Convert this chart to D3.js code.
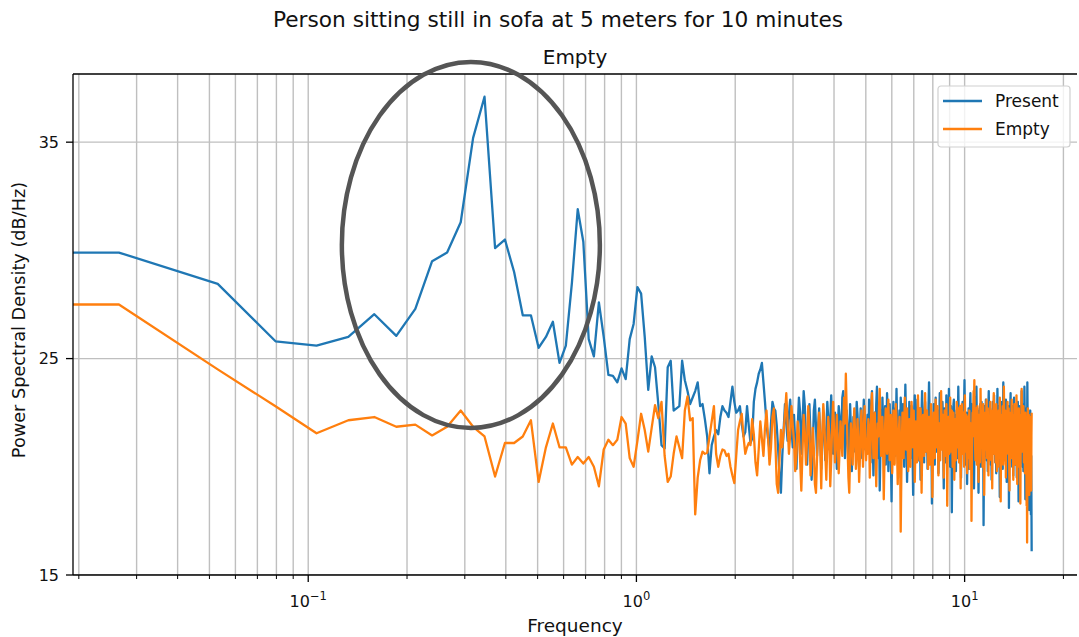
<!DOCTYPE html>
<html>
<head>
<meta charset="utf-8">
<script src="https://cdn.jsdelivr.net/npm/d3@7"></script>
<style>
  body { margin: 0; background: #fff; }
  svg { display: block; font-family: "DejaVu Sans", sans-serif; }
</style>
</head>
<body>
<svg id="chart"></svg>
<script>
// PSD bin width (Hz)
const df = 0.0265;

// bins 1..189 (dB/Hz)
const presentLow = [
  29.9, 28.45, 25.8, 25.6, 26.0, 27.05, 26.05, 27.3, 29.5, 29.9,
  31.3, 35.2, 37.1, 30.1, 30.5, 29.0, 27.0, 27.0, 25.5, 26.0,
  26.7, 24.8, 25.6, 28.5, 31.9, 30.4, 25.9, 25.1, 27.6, 26.0,
  24.25, 24.2, 23.9, 24.55, 24.05, 25.9, 26.6, 28.3, 28.0, 26.0,
  23.55, 25.1, 24.6, 22.9, 21.0, 20.85, 24.6, 24.9, 22.6, 22.7,
  22.8, 24.9, 24.0, 23.5, 22.9, 23.2, 23.5, 23.9, 22.8, 22.9,
  22.2, 21.4, 19.7, 21.0, 21.4, 21.7, 21.5, 22.3, 22.8, 22.6,
  22.5, 22.3, 23.0, 23.7, 23.0, 22.5, 22.6, 22.8, 22.0, 21.4,
  21.6, 22.8, 21.9, 21.1, 21.3, 23.0, 23.6, 23.9, 24.3, 24.5,
  24.8, 23.9, 23.0, 22.0, 21.3, 20.8, 22.0, 23.0, 22.7, 22.6,
  21.9, 20.8, 19.6, 18.8, 20.5, 21.7, 22.9, 22.0, 21.2, 22.4,
  23.1, 21.8, 20.9,
  22.4, 21.1, 19.9, 21.8, 23.2, 22.5, 20.6, 21.9, 23.5, 22.8,
  21.2, 20.1, 21.7, 22.9, 21.4, 19.4, 20.8, 22.6, 23.1, 21.9,
  20.5, 21.8, 22.7, 21.3, 19.9, 21.2, 22.4, 21.6, 20.3, 21.5,
  23.0, 22.2, 20.8, 22.1, 23.3, 22.0, 20.6, 21.4, 22.5, 21.0,
  19.9, 21.7, 22.8, 22.3, 20.9, 21.6, 23.2, 23.5, 22.1, 20.4,
  21.3, 22.6, 21.8, 20.2, 21.1, 22.9, 21.7, 19.8, 20.9, 22.3,
  21.5, 20.7, 22.0, 23.0, 22.4, 21.2, 20.0, 21.5, 22.7, 21.6,
  20.4, 21.9, 23.1, 22.2, 20.8, 21.5
];
const emptyLow = [
  27.5, 24.5, 22.8, 21.55, 22.15, 22.3, 21.85, 21.95, 21.45, 21.85,
  22.6, 21.85, 21.4, 19.55, 21.1, 21.1, 21.4, 22.15, 19.3, 20.9,
  22.0, 20.9, 20.9, 20.1, 20.45, 20.15, 20.45, 20.0, 19.1, 20.8,
  21.25, 21.0, 21.25, 22.3, 22.0, 20.4, 20.0, 21.2, 22.45, 21.7,
  20.7, 21.8, 22.85, 22.25, 23.0, 20.5, 19.3, 19.55, 20.6, 21.4,
  20.9, 20.4, 22.6, 23.25, 22.15, 22.25, 17.8, 19.5, 20.3, 20.7,
  20.6, 20.65, 21.4, 22.1, 22.8, 20.6, 20.0, 20.5, 20.8, 20.75,
  20.5, 20.6, 20.0, 19.6, 19.25, 20.5, 21.7, 22.1, 22.45, 21.4,
  20.6, 20.9, 21.1, 21.0, 22.2, 21.5, 20.2, 19.6, 20.8, 22.1,
  21.3, 20.5, 21.8, 22.6, 21.4, 20.1, 20.9, 22.3, 22.7, 21.2,
  19.2, 18.8, 20.4, 21.7, 20.9, 21.6, 22.4, 23.4, 22.0, 20.6,
  21.5, 22.8, 21.9,
  21.2, 19.8, 20.6, 22.1, 21.5, 20.3, 18.9, 20.7, 22.4, 21.6,
  20.1, 21.3, 22.8, 21.9, 19.6, 20.5, 21.8, 20.9, 19.2, 18.8,
  20.4, 21.7, 22.5, 21.3, 19.0, 21.4, 22.9, 22.2, 20.6, 19.4,
  21.0, 22.3, 21.5, 19.1, 20.3, 21.9, 23.0, 21.7, 20.2, 21.1,
  22.4, 21.0, 19.7, 20.8, 22.1, 21.4, 20.5, 21.8, 23.2, 22.0,
  24.3, 22.6, 20.9, 19.5, 18.8, 20.6, 22.0, 21.3, 20.1, 21.6,
  22.7, 21.5, 19.9, 20.7, 22.2, 21.1, 19.3, 20.4, 21.9, 22.6,
  21.2, 20.0, 21.5, 22.8, 21.7, 20.3
];

// bins 190..604 (~5 Hz up to 16 Hz)
const presentHigh = [
  21.6, 22.4, 20.9, 23.1, 21.8, 20.2, 22.7, 23.5, 21.3, 19.6,
  20.8, 22.5, 21.1, 22.9, 23.7, 21.9, 20.4, 22.2, 18.9, 20.7,
  22.6, 21.4, 23.2, 22.0, 20.6, 21.7, 22.8, 20.1, 21.5, 23.4,
  22.3, 19.8, 21.2, 22.9, 21.6, 20.3, 18.4, 20.9, 22.4, 23.0,
  21.8, 22.7, 20.5, 21.9, 23.6, 22.1, 20.8, 19.5, 21.4, 22.6,
  21.0, 23.2, 22.5, 20.7, 21.8, 22.9, 21.3, 20.0, 22.1, 23.8,
  22.4, 21.1, 19.3, 20.6, 22.3, 21.5, 23.0, 22.2, 20.4, 21.7,
  22.8, 21.2, 20.5, 18.7, 20.9, 22.6, 23.3, 21.7, 22.4, 20.8,
  21.9, 23.1, 22.0, 20.3, 21.6, 22.7, 21.1, 19.4, 21.3, 22.5,
  23.5, 22.3, 20.9, 21.8, 20.2, 22.4, 23.0, 21.6, 20.7, 22.1,
  21.4, 19.9, 21.7, 22.8, 23.9, 22.6, 21.0, 20.4, 22.2, 21.5,
  18.3, 20.6, 22.0, 21.3, 22.9, 21.8, 20.1, 21.6, 23.2, 22.4,
  20.7, 21.9, 22.6, 21.2, 19.7, 20.8, 22.3, 23.4, 22.0, 21.1,
  22.5, 20.9, 21.7, 23.0, 22.2, 20.5, 19.0, 21.2, 22.7, 21.4,
  20.2, 21.8, 23.3, 22.5, 21.0, 22.1, 20.6, 21.9, 23.6, 22.3,
  21.5, 20.0, 21.4, 22.8, 21.7, 17.9, 20.3, 22.0, 21.6, 22.9,
  23.1, 21.8, 20.7, 22.4, 21.2, 19.8, 21.5, 22.6, 21.0, 20.4,
  22.2, 23.7, 22.5, 21.1, 20.2, 21.9, 22.8, 21.3, 19.5, 21.0,
  22.4, 21.6, 23.0, 22.1, 20.8, 21.7, 22.9, 24.0, 22.6, 21.2,
  20.1, 21.8, 22.5, 20.9, 19.2, 20.6, 22.3, 21.4, 22.7, 21.1,
  19.9, 21.3, 22.8, 23.4, 22.0, 20.7, 21.5, 22.9, 21.6, 20.3,
  21.7, 22.4, 20.8, 19.0, 20.5, 22.1, 23.2, 21.9, 20.6, 22.0,
  23.7, 22.3, 21.0, 21.8, 22.6, 20.4, 18.8, 20.2, 21.9, 22.7,
  21.5, 22.9, 21.2, 20.0, 21.6, 23.0, 22.4, 21.1, 20.7, 22.3,
  21.4, 17.3, 19.6, 21.5, 22.8, 21.7, 20.5, 22.0, 23.1, 21.8,
  20.3, 21.6, 22.5, 21.0, 19.8, 21.3, 22.9, 23.5, 22.2, 20.9,
  21.8, 22.7, 21.4, 20.1, 22.0, 21.2, 19.4, 20.8, 22.4, 21.6,
  23.0, 22.1, 20.6, 21.9, 23.3, 22.0, 20.9, 21.5, 20.2, 22.6,
  21.3, 19.7, 21.1, 22.5, 21.8, 23.6, 22.7, 21.0, 20.3, 21.7,
  22.8, 21.5, 20.1, 18.6, 20.4, 22.2, 21.6, 23.0, 22.3, 20.8,
  21.9, 22.7, 21.2, 19.9, 21.4, 23.9, 22.6, 21.3, 20.5, 22.0,
  21.1, 22.4, 20.7, 21.8, 23.1, 22.2, 20.6, 19.3, 20.9, 22.5,
  21.7, 20.4, 21.9, 22.8, 21.5, 18.1, 20.2, 21.8, 22.6, 21.0,
  22.9, 23.4, 21.8, 20.7, 21.6, 22.3, 21.1, 20.0, 21.7, 22.8,
  21.4, 19.6, 21.0, 22.4, 23.2, 22.0, 20.8, 21.9, 22.6, 21.3,
  20.1, 21.5, 22.7, 21.8, 19.5, 20.9, 22.1, 21.4, 23.0, 22.3,
  20.6, 18.4, 20.3, 21.7, 22.8, 21.6, 20.5, 22.2, 21.3, 22.5,
  21.0, 20.2, 21.8, 23.5, 22.4, 21.1, 20.0, 21.6, 22.9, 21.7,
  19.8, 21.2, 22.6, 21.5, 23.7, 22.8, 21.4, 20.3, 18.5, 20.6,
  22.1, 21.0, 22.7, 21.9, 20.4, 21.6, 23.9, 22.5, 20.8, 19.6,
  21.3, 22.4, 20.7, 18.0, 19.9, 22.2, 21.5, 20.3, 22.6, 21.1,
  19.4, 17.8, 20.5, 18.6, 16.1
];
const emptyHigh = [
  21.3, 20.6, 22.2, 21.7, 19.5, 20.8, 22.6, 23.4, 21.9, 20.4,
  21.1, 22.5, 20.7, 19.1, 20.9, 22.0, 21.4, 22.8, 23.6, 21.8,
  20.5, 21.6, 22.3, 20.8, 18.5, 20.2, 21.9, 22.7, 21.2, 20.6,
  22.1, 23.1, 21.7, 20.3, 21.5, 22.4, 20.9, 19.7, 21.0, 22.6,
  21.4, 20.1, 21.8, 22.9, 22.2, 20.7, 19.2, 20.5, 21.7, 22.3,
  20.6, 17.0, 19.4, 21.2, 22.5, 21.6, 20.4, 21.9, 23.2, 22.0,
  20.8, 21.5, 22.7, 21.1, 19.8, 20.9, 22.2, 21.3, 20.0, 21.7,
  23.0, 22.4, 20.9, 21.8, 22.6, 21.2, 19.3, 20.6, 22.1, 21.5,
  20.2, 21.4, 23.3, 22.5, 21.0, 20.3, 21.8, 22.7, 21.6, 18.8,
  20.4, 21.9, 22.4, 21.1, 20.5, 22.0, 23.4, 22.2, 20.7, 21.3,
  22.6, 21.5, 19.9, 20.8, 22.3, 21.7, 20.1, 21.4, 22.9, 22.1,
  20.6, 18.6, 20.2, 21.6, 22.5, 21.3, 20.4, 21.9, 23.1, 22.0,
  20.9, 21.7, 22.8, 21.4, 19.6, 20.7, 22.0, 21.2, 20.3, 21.8,
  23.5, 22.3, 20.8, 21.6, 22.4, 20.9, 19.5, 21.0, 22.6, 21.7,
  20.5, 21.9, 22.9, 21.3, 18.2, 20.1, 21.6, 22.3, 21.1, 20.6,
  22.0, 23.2, 22.1, 20.7, 21.5, 22.6, 21.4, 20.0, 21.8, 22.5,
  21.2, 19.4, 20.8, 22.2, 21.5, 20.3, 21.7, 23.0, 22.4, 20.9,
  21.6, 22.7, 21.3, 20.2, 21.9, 22.8, 21.0, 19.0, 20.5, 22.1,
  22.9, 21.8, 20.6, 21.4, 22.5, 21.1, 20.0, 21.7, 23.3, 22.2,
  20.7, 21.5, 22.4, 21.0, 19.7, 20.9, 22.3, 21.6, 20.4, 21.8,
  22.6, 21.2, 19.9, 20.6, 22.0, 21.3, 17.5, 19.8, 21.7, 22.5,
  21.4, 22.8, 23.5, 22.9, 24.0, 22.4, 21.1, 20.3, 21.9, 22.7,
  21.5, 20.1, 21.6, 22.8, 21.8, 20.5, 19.3, 21.0, 22.4, 21.3,
  20.2, 21.7, 23.6, 22.3, 21.0, 21.9, 22.6, 21.2, 20.0, 21.5,
  22.9, 22.1, 20.6, 18.7, 20.3, 21.8, 22.5, 21.4, 20.8, 22.2,
  23.1, 21.7, 20.4, 21.5, 22.7, 21.1, 19.6, 20.9, 22.3, 21.6,
  20.3, 21.8, 23.0, 22.4, 20.9, 21.3, 22.6, 21.0, 19.0, 20.7,
  22.0, 21.4, 22.8, 23.4, 21.9, 20.6, 21.5, 22.2, 21.1, 20.2,
  21.7, 22.9, 21.6, 19.8, 20.5, 22.1, 21.3, 20.0, 21.9, 22.6,
  21.2, 20.4, 22.0, 23.2, 22.3, 20.8, 18.4, 20.2, 21.8, 22.4,
  21.5, 20.7, 21.9, 22.8, 21.4, 20.1, 21.6, 23.7, 22.5, 21.0,
  20.3, 21.8, 22.6, 21.3, 19.5, 20.9, 22.2, 21.5, 20.6, 21.9,
  23.0, 22.2, 20.8, 21.4, 22.7, 21.6, 20.2, 18.9, 20.6, 22.0,
  21.3, 22.5, 21.7, 20.4, 21.8, 23.1, 22.0, 20.9, 21.5, 22.3,
  20.7, 19.4, 21.0, 22.4, 21.6, 22.9, 21.2, 20.1, 21.7, 22.8,
  21.5, 20.3, 21.9, 23.3, 22.1, 20.6, 19.2, 20.8, 22.2, 21.4,
  20.5, 21.8, 22.7, 21.1, 20.0, 21.6, 22.4, 21.0, 18.3, 20.4,
  22.0, 21.3, 22.6, 23.6, 22.2, 20.7, 21.5, 22.1, 20.9, 21.7,
  22.8, 21.4, 20.2, 21.0, 22.3, 21.6, 19.7, 20.8, 22.5, 21.9,
  20.6, 21.8, 20.3, 18.2, 19.9, 16.5, 19.4, 21.3, 22.7, 21.1,
  19.6, 21.5, 22.4, 20.8, 18.7, 20.5, 21.9, 20.2, 19.1, 21.2,
  22.3, 20.6, 18.9, 21.4, 22.5
];

const seriesNames = ["Present", "Empty"];
const seriesColors = ["#1f77b4", "#ff7f0e"];
const yTicks = [15, 25, 35];
const xMajorTicks = [0.1, 1, 10];
const xTickExponents = ["\u22121", "0", "1"];

const width = 1079;
const height = 637;

const svg = d3.select("#chart")
  .attr("width", width)
  .attr("height", height);

// plot area
const x = d3.scaleLog().domain([0.0192, 22.0]).range([73, 1077]);
const y = d3.scaleLinear().domain([15, 38.15]).range([575, 74]);
const [x0, x1] = x.range();
const [y0, y1] = y.range();

// one point per PSD bin, bin k sits at k * df
function toPoints(values) {
  return values.map((v, i) => ({ f: (i + 1) * df, v }));
}
const series = [
  toPoints(presentLow.concat(presentHigh)),
  toPoints(emptyLow.concat(emptyHigh))
];

svg.append("defs").append("clipPath").attr("id", "plotClip")
  .append("rect")
  .attr("x", x0).attr("y", y1)
  .attr("width", x1 - x0).attr("height", y0 - y1);

// minor + major grid on the log axis
const minorTicks = [];
[0.01, 0.1, 1, 10].forEach(dec => {
  for (let m = 2; m <= 9; m++) {
    const t = dec * m;
    if (t > x.domain()[0] && t < x.domain()[1]) minorTicks.push(t);
  }
});

const grid = svg.append("g").attr("clip-path", "url(#plotClip)");
grid.selectAll("line.vx")
  .data(minorTicks.concat(xMajorTicks))
  .enter().append("line")
  .attr("x1", d => x(d)).attr("x2", d => x(d))
  .attr("y1", y1).attr("y2", y0)
  .attr("stroke", "#bfbfbf").attr("stroke-width", 1.4);
grid.selectAll("line.hy")
  .data(yTicks)
  .enter().append("line")
  .attr("x1", x0).attr("x2", x1)
  .attr("y1", d => y(d)).attr("y2", d => y(d))
  .attr("stroke", "#bfbfbf").attr("stroke-width", 1.4);

// lines (the DC bin falls off the log axis, so the trace runs flat to the edge)
const line = d3.line().x(d => d.px).y(d => y(d.v));
const plot = svg.append("g").attr("clip-path", "url(#plotClip)");
series.forEach((pts, i) => {
  const path = [{ px: x0, v: pts[0].v }].concat(pts.map(p => ({ px: x(p.f), v: p.v })));
  plot.append("path")
    .attr("d", line(path))
    .attr("fill", "none")
    .attr("stroke", seriesColors[i])
    .attr("stroke-width", 2.3)
    .attr("stroke-linejoin", "round");
});

// spines
svg.append("line").attr("x1", x0).attr("x2", x0).attr("y1", y1).attr("y2", y0)
  .attr("stroke", "#000").attr("stroke-width", 1.3);
svg.append("line").attr("x1", x0).attr("x2", x1).attr("y1", y0).attr("y2", y0)
  .attr("stroke", "#000").attr("stroke-width", 1.3);
svg.append("line").attr("x1", x0).attr("x2", x1).attr("y1", y1).attr("y2", y1)
  .attr("stroke", "#000").attr("stroke-width", 1.3);

// x ticks
svg.selectAll("line.xminor").data(minorTicks).enter().append("line")
  .attr("x1", d => x(d)).attr("x2", d => x(d))
  .attr("y1", y0).attr("y2", y0 + 4)
  .attr("stroke", "#000").attr("stroke-width", 1);
svg.selectAll("line.xmajor").data(xMajorTicks).enter().append("line")
  .attr("x1", d => x(d)).attr("x2", d => x(d))
  .attr("y1", y0).attr("y2", y0 + 7)
  .attr("stroke", "#000").attr("stroke-width", 1.3);
const xLabels = svg.selectAll("text.xlab").data(xMajorTicks).enter().append("text")
  .attr("x", d => x(d))
  .attr("y", y0 + 32)
  .attr("text-anchor", "middle")
  .attr("font-size", 16)
  .attr("fill", "#111");
xLabels.append("tspan").text("10");
xLabels.append("tspan")
  .attr("dy", -7)
  .attr("font-size", 11.5)
  .text((d, i) => xTickExponents[i]);

// y ticks
svg.selectAll("line.ytick").data(yTicks).enter().append("line")
  .attr("x1", x0 - 7).attr("x2", x0)
  .attr("y1", d => y(d)).attr("y2", d => y(d))
  .attr("stroke", "#000").attr("stroke-width", 1.3);
svg.selectAll("text.ylab").data(yTicks).enter().append("text")
  .attr("x", x0 - 14)
  .attr("y", d => y(d))
  .attr("dy", "0.36em")
  .attr("text-anchor", "end")
  .attr("font-size", 16)
  .attr("fill", "#111")
  .text(d => d);

// axis labels and titles
svg.append("text")
  .attr("x", (x0 + x1) / 2).attr("y", 632)
  .attr("text-anchor", "middle").attr("font-size", 18.5).attr("fill", "#111")
  .text("Frequency");
svg.append("text")
  .attr("transform", `translate(25, 320) rotate(-90)`)
  .attr("text-anchor", "middle").attr("font-size", 17.7).attr("fill", "#111")
  .text("Power Spectral Density (dB/Hz)");
svg.append("text")
  .attr("x", (x0 + x1) / 2).attr("y", 64)
  .attr("text-anchor", "middle").attr("font-size", 20).attr("fill", "#111")
  .text("Empty");
svg.append("text")
  .attr("x", 558).attr("y", 27)
  .attr("text-anchor", "middle").attr("font-size", 21.7).attr("fill", "#111")
  .text("Person sitting still in sofa at 5 meters for 10 minutes");

// legend (upper right)
const legend = svg.append("g").attr("transform", `translate(${x1 - 139}, ${y1 + 12})`);
legend.append("rect")
  .attr("width", 132).attr("height", 61).attr("rx", 3)
  .attr("fill", "#fff").attr("fill-opacity", 0.8)
  .attr("stroke", "#d0d0d0").attr("stroke-width", 1.2);
seriesNames.forEach((name, i) => {
  const ly = 15 + i * 28;
  legend.append("line")
    .attr("x1", 5).attr("x2", 44).attr("y1", ly).attr("y2", ly)
    .attr("stroke", seriesColors[i]).attr("stroke-width", 2.3);
  legend.append("text")
    .attr("x", 57).attr("y", ly).attr("dy", "0.36em")
    .attr("font-size", 17).attr("fill", "#111")
    .text(name);
});

// hand-drawn highlight around the breathing peak
const highlight = { f: 0.313, v: 30.25, rx: 129, ry: 183 };
svg.append("ellipse")
  .attr("cx", x(highlight.f)).attr("cy", y(highlight.v))
  .attr("rx", highlight.rx).attr("ry", highlight.ry)
  .attr("fill", "none")
  .attr("stroke", "#555").attr("stroke-width", 4.5);
</script>
</body>
</html>
